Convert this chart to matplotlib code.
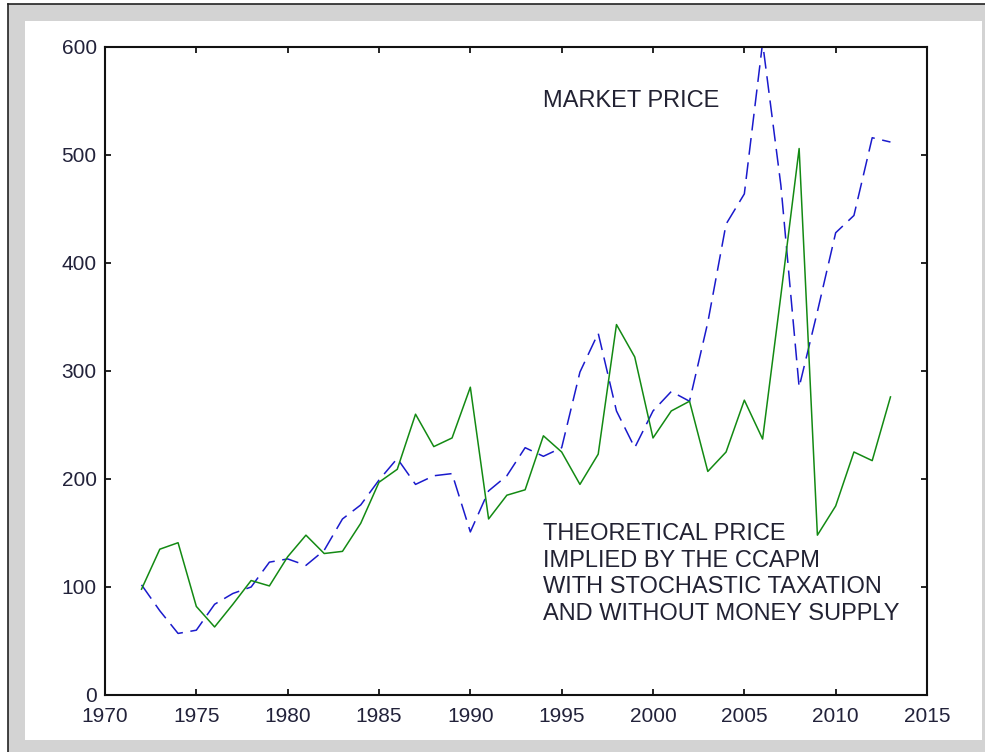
import matplotlib
matplotlib.use('Agg')
import matplotlib.pyplot as plt
from matplotlib.patches import Rectangle
from matplotlib.lines import Line2D

# Years covered by both series
years = list(range(1972, 2014))

# Market price (blue dashed)
market_price = [102, 78, 57, 60, 84, 94, 100, 123, 126, 120,
                134, 163, 176, 199, 219, 195, 203, 205, 151, 189,
                203, 229, 221, 229, 299, 335, 263, 229, 263, 281,
                272, 345, 436, 464, 604, 472, 285, 355, 428, 444,
                516, 512]

# Theoretical CCAPM price (green solid)
theoretical_price = [98, 135, 141, 82, 63, 84, 106, 101, 128, 148,
                     131, 133, 159, 197, 209, 260, 230, 238, 285, 163,
                     185, 190, 240, 225, 195, 223, 343, 313, 238, 263,
                     272, 207, 225, 273, 237, 370, 506, 148, 175, 225,
                     217, 276]

x_ticks = list(range(1970, 2016, 5))
y_ticks = list(range(0, 601, 100))

W, H = 985, 752
fig = plt.figure(figsize=(W / 100, H / 100), dpi=100)
fig.patch.set_facecolor('white')

# screenshot frame: gray border, white panel, dark edge lines (behind the axes)
fig.patches.append(Rectangle((8 / W, 0), 1 - 8 / W, 1 - 4 / H, transform=fig.transFigure,
                             facecolor='#d3d3d3', edgecolor='none', zorder=-2))
fig.patches.append(Rectangle((25 / W, 1 - 740 / H), (982 - 25) / W, (740 - 21) / H,
                             transform=fig.transFigure, facecolor='white',
                             edgecolor='none', zorder=-1))
fig.lines.append(Line2D([8 / W, 1], [1 - 4 / H, 1 - 4 / H], transform=fig.transFigure,
                        color='#222222', linewidth=1.2, zorder=-1))
fig.lines.append(Line2D([8 / W, 8 / W], [0, 1 - 4 / H], transform=fig.transFigure,
                        color='#222222', linewidth=1.2, zorder=-1))

ax = fig.add_axes([105 / W, 1 - 695 / H, (927 - 105) / W, (695 - 47) / H])
ax.set_facecolor('white')

ax.plot(years, market_price, color='#1a1acc', linestyle=(0, (11, 5)), linewidth=1.1)
ax.plot(years, theoretical_price, color='#138a13', linestyle='-', linewidth=1.1)

ax.set_xlim(1970, 2015)
ax.set_ylim(0, 600)
ax.set_xticks(x_ticks)
ax.set_yticks(y_ticks)

tick_color = '#22223a'
ax.tick_params(direction='in', length=4.5, width=1.2, top=True, right=True,
               labelsize=15, labelcolor=tick_color)
ax.tick_params(axis='x', pad=9)
ax.tick_params(axis='y', pad=6)
for lab in ax.get_xticklabels() + ax.get_yticklabels():
    lab.set_family('Liberation Sans')

for side in ['left', 'right', 'top', 'bottom']:
    ax.spines[side].set_linewidth(1.5)
    ax.spines[side].set_color('#111111')

ax.text(1994, 550, 'MARKET PRICE', fontsize=17, family='Liberation Sans',
        color='#222233', va='center', ha='left')
ax.text(1994, 159, 'THEORETICAL PRICE\nIMPLIED BY THE CCAPM\nWITH STOCHASTIC TAXATION\nAND WITHOUT MONEY SUPPLY',
        fontsize=17, family='Liberation Sans', color='#222233', va='top', ha='left',
        linespacing=1.27)

fig.savefig('out.png', dpi=100, facecolor=fig.get_facecolor())
